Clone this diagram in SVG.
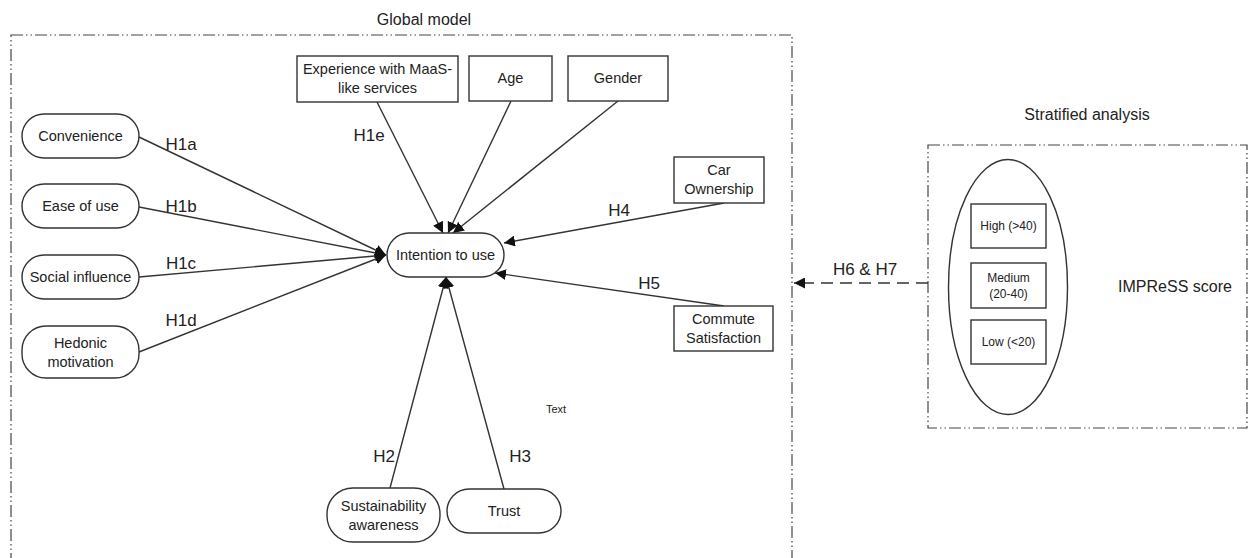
<svg xmlns="http://www.w3.org/2000/svg" width="1253" height="558" viewBox="0 0 1253 558">
<style>
text{font-family:"Liberation Sans",Arial,sans-serif;fill:#222;text-anchor:middle}
.n{font-size:14.5px}
.h{font-size:17px}
.s{font-size:12px}
.t{font-size:16px}
.box{fill:#fff;stroke:#333;stroke-width:1.4}
.frame{fill:none;stroke:#444;stroke-width:1.2;stroke-dasharray:12 3 1.5 3 1.5 3}
.c{stroke:#333;stroke-width:1.4;fill:none}
</style>
<defs>
<marker id="a" viewBox="0 0 10 10" refX="10" refY="5" markerWidth="11" markerHeight="11" markerUnits="userSpaceOnUse" orient="auto"><path d="M0,0L10,5L0,10z" fill="#111"/></marker>
</defs>
<rect fill="#fff" width="1253" height="558"/>
<text class="t" x="424" y="25">Global model</text>
<rect class="frame" x="11" y="35" width="781" height="540"/>
<text class="t" x="1087" y="120">Stratified analysis</text>
<rect class="frame" x="928" y="145" width="319" height="283"/>
<g id="connectors">
<line class="c" x1="139" y1="137" x2="386" y2="255" marker-end="url(#a)"/>
<line class="c" x1="139" y1="207" x2="386" y2="255" marker-end="url(#a)"/>
<line class="c" x1="139" y1="277" x2="386" y2="255" marker-end="url(#a)"/>
<line class="c" x1="139" y1="352" x2="386" y2="255" marker-end="url(#a)"/>
<line class="c" x1="377" y1="102" x2="443" y2="233" marker-end="url(#a)"/>
<line class="c" x1="511" y1="101" x2="448" y2="233" marker-end="url(#a)"/>
<line class="c" x1="618" y1="101" x2="453" y2="233" marker-end="url(#a)"/>
<line class="c" x1="724" y1="203" x2="504" y2="243" marker-end="url(#a)"/>
<line class="c" x1="724" y1="306" x2="495" y2="273" marker-end="url(#a)"/>
<line class="c" x1="390" y1="488" x2="446" y2="277" marker-end="url(#a)"/>
<line class="c" x1="504" y1="489" x2="446" y2="277" marker-end="url(#a)"/>
<line class="c" x1="928" y1="283" x2="794" y2="283" stroke-dasharray="12 7" marker-end="url(#a)"/>
<text class="h" x="181" y="150">H1a</text>
<text class="h" x="181" y="212">H1b</text>
<text class="h" x="181" y="269">H1c</text>
<text class="h" x="181" y="326">H1d</text>
<text class="h" x="369" y="141">H1e</text>
<text class="h" x="619" y="216">H4</text>
<text class="h" x="649" y="289">H5</text>
<text class="h" x="384" y="462">H2</text>
<text class="h" x="520" y="462">H3</text>
<text class="h" x="865" y="275">H6 &amp; H7</text>
</g>
<g id="convenience"><rect class="box" x="22" y="114" width="117" height="44" rx="22"/><text class="n" x="80.5" y="141">Convenience</text></g>
<g id="ease"><rect class="box" x="22" y="184" width="117" height="44" rx="22"/><text class="n" x="80.5" y="211">Ease of use</text></g>
<g id="social"><rect class="box" x="22" y="255" width="117" height="44" rx="22"/><text class="n" x="80.5" y="282">Social influence</text></g>
<g id="hedonic"><rect class="box" x="22" y="326" width="117" height="52" rx="24"/><text class="n" x="80.5" y="348">Hedonic</text><text class="n" x="80.5" y="367">motivation</text></g>
<g id="experience"><rect class="box" x="297" y="56" width="161" height="46"/><text class="n" x="377.5" y="74">Experience with MaaS-</text><text class="n" x="377.5" y="93">like services</text></g>
<g id="age"><rect class="box" x="469" y="56" width="83" height="45"/><text class="n" x="510.5" y="83">Age</text></g>
<g id="gender"><rect class="box" x="568" y="56" width="100" height="45"/><text class="n" x="618" y="83">Gender</text></g>
<g id="car"><rect class="box" x="674" y="157" width="90" height="46"/><text class="n" x="719" y="175">Car</text><text class="n" x="719" y="194">Ownership</text></g>
<g id="intention"><rect class="box" x="387" y="233" width="117" height="44" rx="22"/><text class="n" x="445.5" y="260">Intention to use</text></g>
<g id="commute"><rect class="box" x="674" y="306" width="99" height="45"/><text class="n" x="723.5" y="324">Commute</text><text class="n" x="723.5" y="343">Satisfaction</text></g>
<g id="sustainability"><rect class="box" x="327" y="488" width="113" height="54" rx="26"/><text class="n" x="383.5" y="511">Sustainability</text><text class="n" x="383.5" y="530">awareness</text></g>
<g id="trust"><rect class="box" x="447" y="489" width="114" height="44" rx="22"/><text class="n" x="504" y="516">Trust</text></g>
<g id="textlabel"><text style="font-size:11px" x="556" y="413">Text</text></g>
<g id="impress">
<ellipse class="box" cx="1008" cy="287" rx="59.5" ry="127.5"/>
<rect class="box" x="971" y="204" width="75" height="44"/><text class="s" x="1008.5" y="230">High (&gt;40)</text>
<rect class="box" x="971" y="263" width="75" height="45"/><text class="s" x="1008.5" y="282">Medium</text><text class="s" x="1008.5" y="298">(20-40)</text>
<rect class="box" x="971" y="320" width="75" height="44"/><text class="s" x="1008.5" y="346">Low (&lt;20)</text>
<text class="t" x="1175" y="292">IMPReSS score</text>
</g>
</svg>
